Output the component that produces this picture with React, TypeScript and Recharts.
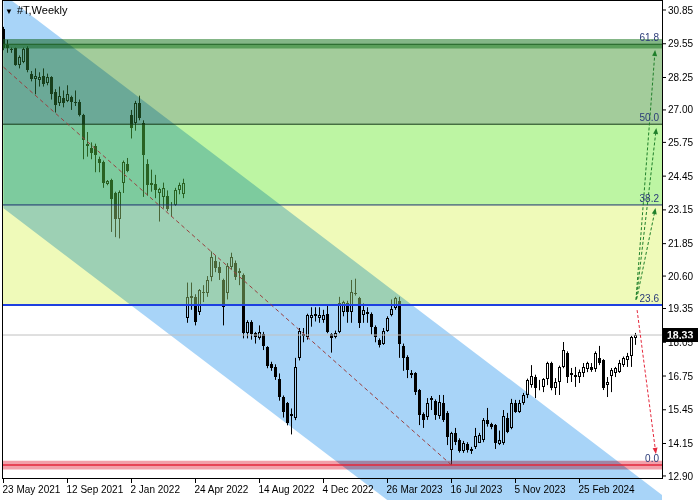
import React from "react";
import {
  Area,
  Bar,
  ComposedChart,
  ReferenceArea,
  ReferenceLine,
  XAxis,
  YAxis,
} from "recharts";

document.body.style.margin = "0";

// weekly candles, index 0 = week of 23 May 2021
const opens = [
  30.1, 29.5, 29.35, 29.4, 28.75, 28.85, 29.4, 28.4, 28.2, 28.15, 28.3, 28.05, 28.25, 27.7, 27.25, 27.45, 27.35, 27.5, 27.3, 27.3,
  26.8, 25.7, 25.55, 25.6, 25.1, 25.0, 24.15, 24.3, 23.8, 22.8, 24.2, 24.9, 26.8, 26.5, 27.25, 26.5, 24.9, 24.1, 24.15, 23.8,
  23.65, 23.7, 23.3, 23.35, 23.9, 23.75, 19.0, 19.75, 19.8, 19.2, 20.0, 19.95, 20.55, 21.2, 20.95, 20.45, 19.95, 20.95, 21.1, 20.8,
  20.65, 18.4, 18.85, 18.4, 18.2, 18.35, 17.85, 17.2, 17.1, 16.65, 15.95, 15.7, 15.3, 15.15, 17.45, 18.35, 18.25, 19.0, 19.05, 19.0,
  18.9, 19.15, 18.35, 18.25, 18.45, 19.2, 19.55, 19.2, 19.95, 19.75, 19.1, 19.2, 19.15, 18.65, 18.15, 18.0, 18.5, 19.1, 19.37, 19.65,
  17.9, 17.5, 16.85, 16.85, 16.2, 15.3, 15.17, 15.83, 15.8, 15.2, 15.7, 15.33, 13.9, 14.56, 14.3, 13.85, 14.15, 13.92, 14.02, 14.17,
  14.29, 15.06, 14.9, 14.86, 14.15, 14.17, 15.13, 14.75, 15.71, 15.37, 15.71, 16.02, 16.4, 16.71, 16.4, 16.33, 16.64, 17.25, 16.29, 16.52,
  17.1, 17.64, 16.85, 16.79, 16.71, 16.87, 17.02, 17.1, 17.02, 17.44, 17.37, 16.4, 16.75, 16.87, 16.91, 17.17, 17.37, 17.52, 18.22,
];
const highs = [
  30.2, 29.7, 29.4, 29.4, 29.1, 29.4, 29.45, 28.5, 28.6, 28.45, 28.6, 28.4, 28.3, 27.8, 27.9, 27.75, 27.95, 27.55, 27.75, 27.4,
  26.85, 26.15, 25.75, 25.7, 25.2, 25.05, 24.3, 24.35, 23.85, 23.9, 25.05, 25.15, 27.0, 27.35, 27.55, 26.6, 25.1, 24.7, 24.5, 24.0,
  24.2, 23.9, 23.45, 24.0, 24.2, 24.35, 20.35, 20.35, 19.9, 20.1, 20.25, 20.6, 21.55, 21.4, 21.15, 20.5, 21.1, 21.5, 21.2, 20.9,
  20.7, 18.9, 18.9, 18.45, 18.7, 18.45, 17.9, 17.3, 17.2, 16.85, 16.0, 15.75, 15.5, 17.45, 18.6, 18.6, 19.15, 19.4, 19.4, 19.4,
  19.3, 19.5, 18.4, 18.5, 19.8, 19.65, 19.65, 20.45, 20.5, 19.8, 19.55, 19.4, 19.2, 18.7, 18.2, 18.6, 19.05, 19.7, 19.8, 19.8,
  18.0, 17.55, 16.98, 16.9, 16.25, 15.35, 15.9, 15.98, 15.85, 16.02, 16.02, 15.4, 14.6, 14.75, 14.35, 14.25, 14.2, 14.02, 14.75, 14.56,
  15.13, 15.52, 14.95, 14.9, 14.65, 15.44, 15.33, 15.87, 15.83, 15.83, 16.1, 16.65, 17.17, 16.8, 16.6, 16.67, 17.3, 17.3, 16.67, 17.15,
  18.06, 17.7, 17.06, 17.1, 17.0, 17.25, 17.3, 17.25, 17.7, 17.91, 17.4, 16.71, 17.06, 17.1, 17.37, 17.5, 17.64, 18.3, 18.41,
];
const lows = [
  29.3, 29.2, 29.2, 28.7, 28.6, 28.8, 28.45, 28.1, 27.6, 27.9, 27.9, 27.95, 27.4, 26.9, 27.15, 27.1, 27.3, 27.0, 27.15, 26.75,
  25.1, 25.2, 25.1, 24.6, 24.6, 24.0, 24.1, 22.3, 22.1, 22.05, 23.8, 24.6, 25.9, 26.2, 26.6, 23.65, 23.7, 23.85, 23.6, 22.7,
  23.2, 23.1, 22.9, 23.3, 23.75, 23.6, 18.8, 19.3, 18.7, 19.1, 19.6, 19.8, 20.4, 20.75, 20.45, 18.7, 19.7, 20.85, 20.45, 20.25,
  18.2, 18.2, 18.15, 18.0, 18.15, 17.75, 17.05, 16.95, 16.6, 15.8, 15.15, 14.85, 14.5, 15.05, 17.35, 18.05, 18.15, 18.65, 18.85, 18.8,
  18.8, 18.4, 17.65, 18.2, 18.4, 19.05, 18.8, 18.8, 19.85, 18.6, 18.8, 18.8, 18.35, 18.05, 17.85, 17.95, 18.45, 19.05, 19.3, 17.45,
  16.95, 16.67, 16.67, 16.02, 14.86, 14.75, 15.06, 15.44, 15.06, 15.1, 14.98, 14.09, 13.32, 14.09, 13.8, 13.79, 13.8, 13.75, 13.94, 14.17,
  14.2, 14.8, 14.7, 13.94, 14.09, 14.1, 14.55, 14.7, 15.33, 15.33, 15.64, 15.9, 16.3, 15.9, 16.2, 16.13, 16.4, 16.2, 16.02, 16.02,
  17.05, 16.48, 16.52, 16.33, 16.48, 16.71, 16.9, 16.91, 16.91, 17.17, 16.21, 15.94, 16.13, 16.71, 16.87, 17.1, 17.1, 17.1, 17.95,
];
const closes = [
  29.4, 29.4, 29.3, 28.75, 29.05, 29.35, 28.55, 28.2, 28.3, 28.25, 28.0, 28.25, 27.6, 27.2, 27.55, 27.25, 27.6, 27.3, 27.25, 26.8,
  25.85, 25.6, 25.35, 25.25, 24.95, 24.2, 24.25, 23.55, 22.8, 23.85, 25.0, 24.65, 26.3, 27.27, 26.7, 25.25, 24.1, 24.2, 23.9, 23.95,
  24.0, 23.2, 23.35, 23.9, 24.1, 24.2, 19.8, 19.85, 18.85, 20.05, 19.95, 20.45, 21.35, 20.9, 20.7, 19.4, 21.0, 21.35, 20.55, 20.7,
  18.4, 18.85, 18.35, 18.25, 18.45, 17.9, 17.15, 17.05, 16.7, 15.95, 15.35, 14.95, 15.2, 17.1, 18.5, 18.3, 19.1, 19.1, 19.15, 19.1,
  19.1, 18.45, 18.2, 18.4, 19.55, 19.6, 19.2, 19.99, 19.9, 18.8, 19.3, 19.15, 18.65, 18.25, 17.95, 18.5, 19.0, 19.35, 19.75, 18.0,
  17.45, 16.98, 16.78, 16.13, 15.25, 15.06, 15.71, 15.92, 15.25, 15.75, 15.06, 14.4, 14.56, 14.21, 13.85, 14.17, 13.9, 13.88, 14.44, 14.48,
  15.06, 14.9, 14.8, 14.17, 14.29, 15.21, 14.59, 15.71, 15.37, 15.71, 16.02, 16.6, 16.75, 16.29, 16.45, 16.64, 17.25, 16.29, 16.52, 17.1,
  17.75, 16.71, 16.79, 16.71, 16.91, 17.1, 17.25, 16.98, 17.64, 17.25, 16.29, 16.52, 16.98, 17.06, 17.25, 17.44, 17.52, 18.25, 18.33,
];

const dateTicks = [0, 16, 32, 48, 64, 80, 96, 112, 128, 144];
const dateLabels = [
  "23 May 2021", "12 Sep 2021", "2 Jan 2022", "24 Apr 2022", "14 Aug 2022",
  "4 Dec 2022", "26 Mar 2023", "16 Jul 2023", "5 Nov 2023", "25 Feb 2024",
];
const priceTicks = [
  30.85, 29.55, 28.25, 27.0, 25.75, 24.45, 23.15, 21.85, 20.6, 19.35, 18.05, 16.75, 15.45, 14.15, 12.9,
];

// fibonacci retracement levels
const fibNames = ["0.0", "23.6", "38.2", "50.0", "61.8"];
const fibPrices = [13.32, 19.49, 23.34, 26.45, 29.53];

// channel (two anchors)
const channelX = [0, 170];
const channelLower = [23.21, 3.3];
const channelUpper = [31.45, 11.54];

// dashed trend line
const trendX = [0, 112];
const trendY = [28.65, 13.32];

// projection arrows
const upFromX = [158.1, 158.2, 158.3];
const upFromY = [19.68, 19.7, 19.72];
const upToX = [162.9, 163.2, 163.0];
const upToY = [29.31, 26.3, 23.22];
const downFrom = { x: 158.4, y: 19.29 };
const downTo = { x: 163.1, y: 13.75 };

const lastPrice = 18.33;

const xMin = -0.375;
const xMax = 164.625;
const yMin = 11.974;
const yMax = 31.235;

const candles = opens.map((open, i) => ({
  i,
  open,
  high: highs[i],
  low: lows[i],
  close: closes[i],
  range: [lows[i], highs[i]],
}));

const channelData = channelX.map((i, k) => ({
  i,
  band: [channelLower[k], channelUpper[k]],
}));

const Candle = (props: any) => {
  const { x, y, width, height, payload } = props;
  const { open, close, high, low } = payload;
  const top = Math.min(y, y + height);
  const span = Math.abs(height);
  const k = high > low ? span / (high - low) : 0;
  const yOf = (v: number) => top + (high - v) * k;
  const cx = Math.floor(x + width / 2) + 0.5;
  const bTop = Math.round(yOf(Math.max(open, close)));
  const bBot = Math.round(yOf(Math.min(open, close)));
  const bull = close >= open;
  return (
    <g>
      <line x1={cx} x2={cx} y1={top} y2={top + span} stroke="#000" />
      {bull ? (
        <rect
          x={cx - 1}
          y={bTop + 0.5}
          width={2}
          height={Math.max(bBot - bTop - 1, 0)}
          fill="#fff"
          stroke="#000"
        />
      ) : (
        <rect x={cx - 1.5} y={bTop} width={3} height={Math.max(bBot - bTop, 1)} fill="#000" />
      )}
    </g>
  );
};

const makeArrow = (color: string) => (props: any) => {
  const { x1, y1, x2, y2 } = props;
  const a = Math.atan2(y2 - y1, x2 - x1);
  const len = 6;
  const half = 2.5;
  const bx = x2 - len * Math.cos(a);
  const by = y2 - len * Math.sin(a);
  const p1 = `${bx + half * Math.sin(a)},${by - half * Math.cos(a)}`;
  const p2 = `${bx - half * Math.sin(a)},${by + half * Math.cos(a)}`;
  return (
    <g>
      <line x1={x1} y1={y1} x2={bx} y2={by} stroke={color} strokeDasharray="3 2" />
      <polygon points={`${x2},${y2} ${p1} ${p2}`} fill={color} />
    </g>
  );
};

const PriceTag = (props: any) => {
  const { viewBox } = props;
  const x = viewBox.x + viewBox.width + 1;
  return (
    <g>
      <rect x={x} y={viewBox.y - 7} width={35} height={14} fill="#000" />
      <text x={x + 4} y={viewBox.y + 4} fill="#fff" fontSize={10.5} fontWeight="bold">
        {lastPrice.toFixed(2)}
      </text>
    </g>
  );
};

const DateTick = (props: any) => {
  const { x, y, index } = props;
  return (
    <g>
      <line x1={x} x2={x} y1={y - 22} y2={y - 17} stroke="#000" />
      <text x={x - 1} y={y - 7} fontSize={10} fill="#000">
        {dateLabels[index]}
      </text>
    </g>
  );
};

const levelLabel = (value: string) => ({
  value,
  position: "insideBottomRight" as const,
  offset: 3,
  fill: "#2b3b78",
  fontSize: 10,
});

export default function App() {
  return (
    <div
      style={{
        position: "relative",
        width: 700,
        height: 500,
        background: "#fff",
        fontFamily: "'Liberation Sans', Arial, sans-serif",
      }}
    >
      <style>{".channel-area { mix-blend-mode: multiply; }"}</style>
      <ComposedChart
        width={700}
        height={500}
        data={candles}
        margin={{ top: 0, right: 0, bottom: 0, left: 2 }}
      >
        <XAxis
          dataKey="i"
          type="number"
          domain={[xMin, xMax]}
          allowDataOverflow
          ticks={dateTicks}
          interval={0}
          height={22}
          mirror
          tickSize={0}
          tickMargin={0}
          axisLine={false}
          tick={<DateTick />}
        />
        <YAxis
          orientation="right"
          type="number"
          domain={[yMin, yMax]}
          allowDataOverflow
          ticks={priceTicks}
          interval={0}
          width={38}
          axisLine={false}
          tickSize={4}
          tickMargin={2}
          tickLine={{ stroke: "#000" }}
          tick={{ fontSize: 10, fill: "#000" }}
          tickFormatter={(v: number) => v.toFixed(2)}
        />

        <Bar
          dataKey="range"
          barSize={3}
          shape={Candle}
          isAnimationActive={false}
          zIndex={100}
        />

        <ReferenceArea y1={fibPrices[3]} y2={fibPrices[4]} fill="#479937" fillOpacity={0.5} zIndex={200} />
        <ReferenceArea y1={fibPrices[2]} y2={fibPrices[3]} fill="#7beb47" fillOpacity={0.5} zIndex={200} />
        <ReferenceArea y1={fibPrices[1]} y2={fibPrices[2]} fill="#dff573" fillOpacity={0.5} zIndex={200} />
        <ReferenceArea y1={fibPrices[4] - 0.16} y2={fibPrices[4] + 0.2} fill="#1f7a25" fillOpacity={0.55} zIndex={200} />
        <ReferenceArea y1={fibPrices[0] - 0.17} y2={fibPrices[0] + 0.17} fill="#e54155" fillOpacity={0.5} zIndex={200} />

        <Area
          data={channelData}
          dataKey="band"
          type="linear"
          stroke="none"
          fill="#a8d4f8"
          fillOpacity={1}
          className="channel-area"
          isAnimationActive={false}
          zIndex={300}
        />

        <ReferenceLine y={fibPrices[4]} stroke="#1d5e22" label={levelLabel(fibNames[4])} zIndex={400} />
        <ReferenceLine y={fibPrices[3]} stroke="#143a16" label={levelLabel(fibNames[3])} zIndex={400} />
        <ReferenceLine y={fibPrices[2]} stroke="#1c2f70" label={levelLabel(fibNames[2])} zIndex={400} />
        <ReferenceLine y={fibPrices[1]} stroke="#1e40e0" strokeWidth={2} label={levelLabel(fibNames[1])} zIndex={400} />
        <ReferenceLine y={fibPrices[0]} stroke="#e3263a" strokeWidth={1.5} label={levelLabel(fibNames[0])} zIndex={400} />
        <ReferenceLine y={lastPrice} stroke="#c0c0c0" label={<PriceTag />} zIndex={400} />

        <ReferenceLine
          segment={[
            { x: trendX[0], y: trendY[0] },
            { x: trendX[1], y: trendY[1] },
          ]}
          stroke="#9a4040"
          strokeDasharray="4 3"
          zIndex={400}
        />

        {upFromX.map((fx, k) => (
          <ReferenceLine
            key={k}
            segment={[
              { x: fx, y: upFromY[k] },
              { x: upToX[k], y: upToY[k] },
            ]}
            shape={makeArrow("#1f7f2a")}
            zIndex={500}
          />
        ))}
        <ReferenceLine
          segment={[downFrom, downTo]}
          shape={makeArrow("#e5283c")}
          zIndex={500}
        />
      </ComposedChart>

      <div
        style={{
          position: "absolute",
          left: 2,
          top: 0,
          width: 661,
          height: 479,
          border: "1px solid #000",
          boxSizing: "border-box",
          pointerEvents: "none",
        }}
      />
      <div
        style={{
          position: "absolute",
          left: 5,
          top: 4,
          fontSize: 11,
          color: "#000",
          pointerEvents: "none",
        }}
      >
        <span style={{ fontSize: 8, marginRight: 4 }}>▼</span>#T,Weekly
      </div>
    </div>
  );
}
